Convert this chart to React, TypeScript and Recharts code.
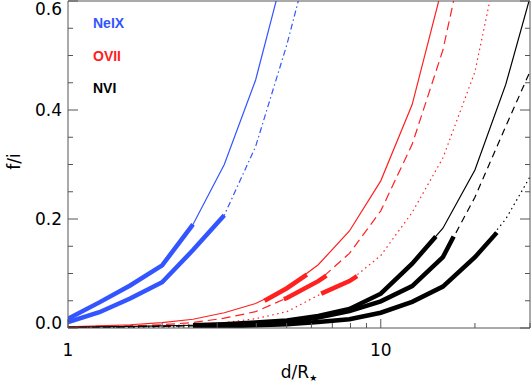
import React from "react";
import { LineChart, Line, XAxis, YAxis, Legend, Label } from "recharts";

// distance grid d/R* (0.1 dex steps)
const distance = [1, 1.26, 1.58, 2.0, 2.51, 3.16, 3.98, 5.01, 6.31, 7.94, 10, 12.6, 15.8, 20, 25.1, 31.6];

// f/i ratios
const neixSolid = [0.017, 0.047, 0.078, 0.115, 0.19, 0.3, 0.455, 0.676];
const neixDashDot = [0.011, 0.029, 0.054, 0.084, 0.143, 0.207, 0.333, 0.52, 0.74];
const oviiSolid = [0.002, 0.004, 0.006, 0.01, 0.016, 0.028, 0.045, 0.073, 0.116, 0.178, 0.27, 0.41, 0.63];
const oviiDashed = [0.002, 0.003, 0.004, 0.006, 0.01, 0.018, 0.03, 0.055, 0.086, 0.137, 0.215, 0.337, 0.51, 0.78];
const oviiDotted = [0.001, 0.001, 0.002, 0.004, 0.006, 0.01, 0.017, 0.03, 0.06, 0.086, 0.133, 0.212, 0.312, 0.47, 0.74];
const nviSolid = [0.001, 0.002, 0.003, 0.004, 0.005, 0.007, 0.01, 0.014, 0.022, 0.035, 0.063, 0.118, 0.183, 0.29, 0.447, 0.653];
const nviDashed = [0.001, 0.001, 0.002, 0.003, 0.004, 0.005, 0.007, 0.011, 0.019, 0.031, 0.049, 0.077, 0.13, 0.24, 0.37, 0.5];
const nviDotted = [0, 0.001, 0.001, 0.002, 0.002, 0.003, 0.005, 0.007, 0.011, 0.016, 0.028, 0.048, 0.076, 0.13, 0.2, 0.3];

// thick segments (observed range)
const oviiSolidThickD = [4.25, 5.01, 5.8];
const oviiSolidThickV = [0.05, 0.073, 0.098];
const oviiDashedThickD = [4.9, 5.01, 6.31, 6.7];
const oviiDashedThickV = [0.053, 0.055, 0.086, 0.096];
const oviiDottedThickD = [6.45, 7.94, 8.4];
const oviiDottedThickV = [0.063, 0.086, 0.095];
const nviSolidThickEnd = [15.0, 0.168];
const nviDashedThickEnd = [17.1, 0.168];
const nviDottedThickEnd = [23.5, 0.175];

const xTicks = [1, 2, 3, 4, 5, 6, 7, 8, 9, 10, 20, 30];
const xLabels = [1, 10];
const yTicks = [0, 0.05, 0.1, 0.15, 0.2, 0.25, 0.3, 0.35, 0.4, 0.45, 0.5, 0.55, 0.6];
const yLabels = [0, 0.2, 0.4, 0.6];

const ions = ["NeIX", "OVII", "NVI"];
const BLUE = "#3355ff";
const RED = "#ff2020";
const BLACK = "#000000";
const ionColors = [BLUE, RED, BLACK];

const AXIS = "#555555";
const TICK_FONT = "DejaVu Sans";

const toPoints = (d: number[], v: number[]) => v.map((y, i) => ({ d: d[i], v: y }));

const thin = 1.2;
const thick = 4.5;

const series = [
  { id: "neS", data: toPoints(distance, neixSolid), color: BLUE, w: thin },
  { id: "neD", data: toPoints(distance, neixDashDot), color: BLUE, w: thin, dash: "6 3 1.5 3" },
  { id: "neSt", data: toPoints(distance.slice(0, 5), neixSolid.slice(0, 5)), color: BLUE, w: thick },
  { id: "neDt", data: toPoints(distance.slice(0, 6), neixDashDot.slice(0, 6)), color: BLUE, w: thick },
  { id: "oS", data: toPoints(distance, oviiSolid), color: RED, w: thin },
  { id: "oD", data: toPoints(distance, oviiDashed), color: RED, w: thin, dash: "9 5" },
  { id: "oT", data: toPoints(distance, oviiDotted), color: RED, w: thin, dash: "1.5 3.5" },
  { id: "oSt", data: toPoints(oviiSolidThickD, oviiSolidThickV), color: RED, w: thick },
  { id: "oDt", data: toPoints(oviiDashedThickD, oviiDashedThickV), color: RED, w: thick },
  { id: "oTt", data: toPoints(oviiDottedThickD, oviiDottedThickV), color: RED, w: thick },
  { id: "nS", data: toPoints(distance, nviSolid), color: BLACK, w: thin },
  { id: "nD", data: toPoints(distance, nviDashed), color: BLACK, w: thin, dash: "7 5" },
  { id: "nT", data: toPoints(distance, nviDotted), color: BLACK, w: thin, dash: "1.5 3.5" },
  {
    id: "nSt",
    data: [...toPoints(distance.slice(4, 12), nviSolid.slice(4, 12)), { d: nviSolidThickEnd[0], v: nviSolidThickEnd[1] }],
    color: BLACK,
    w: thick,
  },
  {
    id: "nDt",
    data: [...toPoints(distance.slice(4, 13), nviDashed.slice(4, 13)), { d: nviDashedThickEnd[0], v: nviDashedThickEnd[1] }],
    color: BLACK,
    w: thick,
  },
  {
    id: "nTt",
    data: [...toPoints(distance.slice(4, 14), nviDotted.slice(4, 14)), { d: nviDottedThickEnd[0], v: nviDottedThickEnd[1] }],
    color: BLACK,
    w: thick,
  },
];

const isMajorY = (v: number) => yLabels.some((l) => Math.abs(l - v) < 1e-6);

const BottomTick = (props: any) => {
  const { x, y, payload } = props;
  const major = xLabels.includes(payload.value);
  return (
    <g>
      <line x1={x} x2={x} y1={y} y2={y - (major ? 9 : 5)} stroke={AXIS} />
      {major && (
        <text x={x} y={y + 28} textAnchor="middle" fontFamily={TICK_FONT} fontSize={17} fill="#000">
          {payload.value}
        </text>
      )}
    </g>
  );
};

const TopTick = (props: any) => {
  const { x, y, payload } = props;
  const major = xLabels.includes(payload.value);
  return <line x1={x} x2={x} y1={y} y2={y + (major ? 9 : 5)} stroke={AXIS} />;
};

const LeftTick = (props: any) => {
  const { x, y, payload } = props;
  const major = isMajorY(payload.value);
  let shift = 6;
  if (payload.value === 0) shift = 1;
  if (Math.abs(payload.value - 0.6) < 1e-6) shift = 14;
  return (
    <g>
      <line x1={x} x2={x + (major ? 10 : 5)} y1={y} y2={y} stroke={AXIS} />
      {major && (
        <text x={x - 6} y={y + shift} textAnchor="end" fontFamily={TICK_FONT} fontSize={17} fill="#000">
          {payload.value.toFixed(1)}
        </text>
      )}
    </g>
  );
};

const RightTick = (props: any) => {
  const { x, y, payload } = props;
  const major = isMajorY(payload.value);
  return <line x1={x} x2={x - (major ? 10 : 5)} y1={y} y2={y} stroke={AXIS} />;
};

const XTitle = (props: any) => {
  const { viewBox } = props;
  const cx = viewBox.x + viewBox.width / 2;
  return (
    <text x={cx} y={viewBox.y + 50} textAnchor="middle" fontFamily={TICK_FONT} fontSize={17} fill="#000">
      d/R
      <tspan fontSize={9} dy={3}>★</tspan>
    </text>
  );
};

const YTitle = (props: any) => {
  const { viewBox } = props;
  const cy = viewBox.y + viewBox.height / 2 - 3;
  return (
    <text
      x={14}
      y={cy}
      textAnchor="middle"
      dominantBaseline="central"
      transform={`rotate(-90, 14, ${cy})`}
      fontFamily={TICK_FONT}
      fontSize={17}
      fill="#000"
    >
      f/i
    </text>
  );
};

const IonLegend = () => (
  <div style={{ fontFamily: "Liberation Sans", fontWeight: "bold", fontSize: 14 }}>
    {ions.map((name, i) => (
      <div key={name} style={{ color: ionColors[i], height: 32.5, lineHeight: "16px" }}>
        {name}
      </div>
    ))}
  </div>
);

export default function App() {
  return (
    <div style={{ width: 531, height: 384, background: "#fff" }}>
      <style>{"body{margin:0}"}</style>
      <LineChart width={531} height={384} margin={{ top: 0, right: 0, bottom: 0, left: 0 }}>
        <XAxis
          dataKey="d"
          type="number"
          scale="log"
          domain={[1, 30]}
          allowDataOverflow
          ticks={xTicks}
          interval={0}
          tickLine={false}
          tickSize={0}
          tickMargin={0}
          tick={<BottomTick />}
          height={56}
          stroke={AXIS}
        >
          <Label content={<XTitle />} />
        </XAxis>
        <XAxis
          xAxisId="top"
          orientation="top"
          type="number"
          scale="log"
          domain={[1, 30]}
          allowDataOverflow
          ticks={xTicks}
          interval={0}
          tickLine={false}
          tickSize={0}
          tickMargin={0}
          tick={<TopTick />}
          height={1}
          stroke={AXIS}
        />
        <YAxis
          type="number"
          domain={[0, 0.6]}
          allowDataOverflow
          ticks={yTicks}
          interval={0}
          tickLine={false}
          tickSize={0}
          tickMargin={0}
          tick={<LeftTick />}
          width={68}
          stroke={AXIS}
        >
          <Label content={<YTitle />} />
        </YAxis>
        <YAxis
          yAxisId="right"
          orientation="right"
          type="number"
          domain={[0, 0.6]}
          allowDataOverflow
          ticks={yTicks}
          interval={0}
          tickLine={false}
          tickSize={0}
          tickMargin={0}
          tick={<RightTick />}
          width={1}
          stroke={AXIS}
        />
        <Legend
          layout="vertical"
          align="center"
          verticalAlign="middle"
          content={<IonLegend />}
          wrapperStyle={{ top: 15, left: 93, width: 60 }}
        />
        {series.map((s) => (
          <Line
            key={s.id}
            data={s.data}
            dataKey="v"
            type="linear"
            stroke={s.color}
            strokeWidth={s.w}
            strokeDasharray={s.dash}
            dot={false}
            activeDot={false}
            legendType="none"
            isAnimationActive={false}
          />
        ))}
      </LineChart>
    </div>
  );
}
